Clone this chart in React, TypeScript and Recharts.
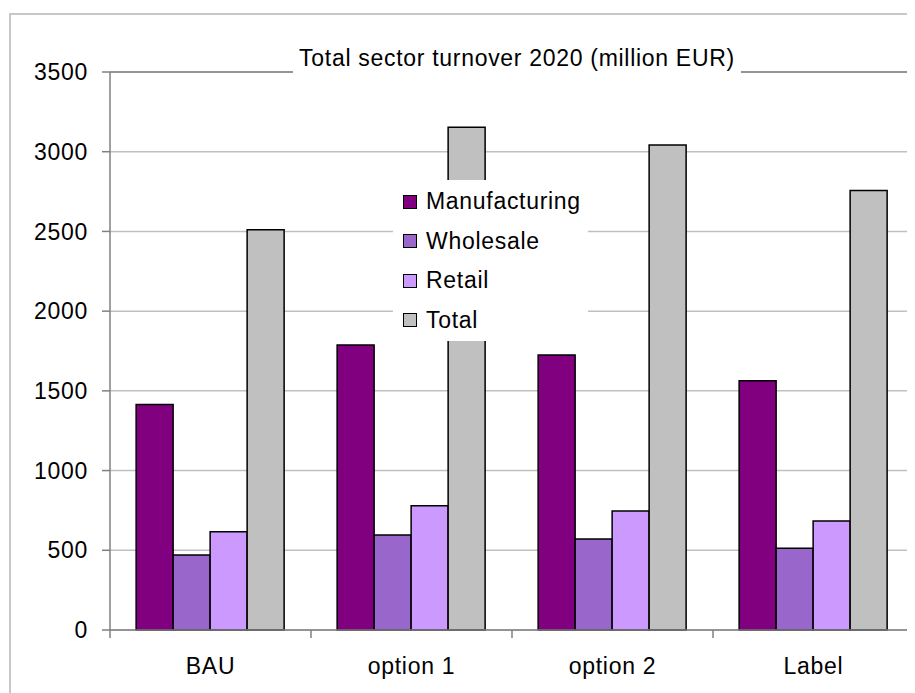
import React from "react";
import { BarChart, Bar, XAxis, YAxis, CartesianGrid, Legend, ReferenceLine } from "recharts";

const categories = ["BAU", "option 1", "option 2", "Label"];
const manufacturing = [1415, 1788, 1725, 1564];
const wholesale = [470, 596, 571, 512];
const retail = [617, 780, 746, 684];
const total = [2510, 3153, 3042, 2756];
const yTicks = [0, 500, 1000, 1500, 2000, 2500, 3000, 3500];

const series = [
  { key: "manufacturing", name: "Manufacturing", color: "#800080" },
  { key: "wholesale", name: "Wholesale", color: "#9966CC" },
  { key: "retail", name: "Retail", color: "#CC99FF" },
  { key: "total", name: "Total", color: "#C0C0C0" },
];

const data = categories.map((name, i) => ({
  name,
  manufacturing: manufacturing[i],
  wholesale: wholesale[i],
  retail: retail[i],
  total: total[i],
}));

const FONT = '"Liberation Sans", Arial, sans-serif';
const textStyle = { fontSize: 23, fill: "#000", letterSpacing: 0.7, fontFamily: FONT };
const noLabel = () => <g />;

const TICK_SIZE = 8;
const TICK_MARGIN = 20;

// label in the middle of the band, tick marks on the band edges (Excel style)
function CategoryTick(props: any) {
  const { x, y, payload, index } = props;
  const half = payload.offset || 0;
  const axisY = y - TICK_SIZE - TICK_MARGIN;
  const line = (lx: number) => (
    <line x1={lx} x2={lx} y1={axisY} y2={axisY + TICK_SIZE} stroke="#808080" strokeWidth={1.5} />
  );
  return (
    <g>
      {line(x - half)}
      {index === categories.length - 1 && line(x + half)}
      <text x={x} y={y} dy="0.71em" textAnchor="middle" {...textStyle}>
        {payload.value}
      </text>
    </g>
  );
}

function LegendBox() {
  return (
    <div style={{ paddingTop: 2, fontFamily: FONT }}>
      {series.map((s) => (
        <div key={s.key} style={{ display: "flex", alignItems: "center", height: 39.5 }}>
          <span
            style={{
              width: 12,
              height: 12,
              marginLeft: 10,
              marginRight: 9,
              background: s.color,
              border: "1.5px solid #000",
              flexShrink: 0,
            }}
          />
          <span style={{ fontSize: 23, letterSpacing: 0.7, color: "#000", lineHeight: "25px" }}>{s.name}</span>
        </div>
      ))}
    </div>
  );
}

export default function App() {
  return (
    <div style={{ position: "relative", width: 907, height: 685, overflow: "hidden", fontFamily: FONT }}>
      <div
        style={{
          position: "absolute",
          left: 1,
          top: 5,
          width: 1000,
          height: 1000,
          border: "2px solid #c8c8c8",
        }}
      />
      <BarChart
        width={907}
        height={685}
        data={data}
        margin={{ top: 64, right: 0, bottom: 62, left: 0 }}
        barCategoryGap="13%"
        barGap={0}
      >
        <CartesianGrid vertical={false} stroke="#c0c0c0" strokeWidth={1.5} />
        <XAxis
          dataKey="name"
          height={1}
          tickLine={false}
          tickSize={TICK_SIZE}
          tickMargin={TICK_MARGIN}
          axisLine={{ stroke: "#808080", strokeWidth: 1.5 }}
          tick={CategoryTick}
          interval={0}
        />
        <YAxis
          width={102}
          domain={[0, 3500]}
          ticks={yTicks}
          tickSize={8}
          tickMargin={14}
          tick={textStyle}
          tickLine={{ stroke: "#808080", strokeWidth: 1.5 }}
          axisLine={{ stroke: "#808080", strokeWidth: 1.5 }}
          interval={0}
        />
        <YAxis
          yAxisId="right"
          orientation="right"
          width={1}
          domain={[0, 3500]}
          ticks={yTicks}
          tick={noLabel}
          tickLine={false}
          axisLine={{ stroke: "#a0a0a0", strokeWidth: 1.5 }}
        />
        <ReferenceLine y={3500} stroke="#808080" strokeWidth={1.5} />
        {series.map((s) => (
          <Bar
            key={s.key}
            dataKey={s.key}
            name={s.name}
            fill={s.color}
            stroke="#000"
            strokeWidth={1.5}
            isAnimationActive={false}
          />
        ))}
        <Legend
          layout="vertical"
          align="center"
          verticalAlign="middle"
          content={() => <LegendBox />}
          wrapperStyle={{ left: 385, top: 172, width: 195, height: 161, background: "#fff" }}
        />
      </BarChart>
      <div
        style={{
          position: "absolute",
          left: 285,
          top: 38,
          width: 448,
          paddingBottom: 6,
          background: "#fff",
          textAlign: "center",
          fontSize: 23,
          letterSpacing: 0.7,
          lineHeight: "25px",
          color: "#000",
          zIndex: 2,
        }}
      >
        Total sector turnover 2020 (million EUR)
      </div>
    </div>
  );
}
